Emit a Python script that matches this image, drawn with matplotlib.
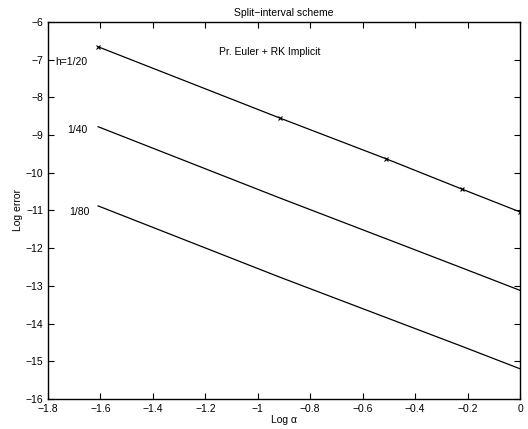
import numpy as np
import matplotlib
matplotlib.use('Agg')
import matplotlib.pyplot as plt

plt.rcParams['font.family'] = ['Liberation Sans', 'DejaVu Sans']

# log(alpha) for alpha = 0.2, 0.4, 0.6, 0.8, 1.0
log_alpha = [-1.609, -0.916, -0.511, -0.223, 0.0]
err_h20 = [-6.66, -8.55, -9.63, -10.43, -11.04]
err_h40 = [-8.78, -10.67, -11.75, -12.52, -13.12]
err_h80 = [-10.88, -12.77, -13.84, -14.60, -15.20]

fig = plt.figure(figsize=(5.28, 4.29), dpi=100)
ax = fig.add_axes([0.0909, 0.070, 0.894, 0.879])

ax.plot(log_alpha, err_h20, color='k', lw=0.9, marker='x', ms=3.5, mew=0.8)
ax.plot(log_alpha, err_h40, color='k', lw=0.9)
ax.plot(log_alpha, err_h80, color='k', lw=0.9)

ax.set_xlim(-1.8, 0)
ax.set_ylim(-16, -6)
ax.set_xticks(np.arange(-1.8, 0.01, 0.2))
ax.set_xticklabels(['\u22121.8', '\u22121.6', '\u22121.4', '\u22121.2', '\u22121',
                    '\u22120.8', '\u22120.6', '\u22120.4', '\u22120.2', '0'])
ax.set_yticks(np.arange(-16, -5.9, 1))
ax.tick_params(direction='in', top=True, right=True, labelsize=7.5, length=4.5, width=0.8)
for s in ax.spines.values():
    s.set_linewidth(1.0)

fs = 7.5
ax.text(-1.773, -7.06, 'h=1/20', fontsize=fs, va='center')
ax.text(-1.69, -8.87, '1/40', fontsize=fs, va='center', ha='center')
ax.text(-1.68, -11.04, '1/80', fontsize=fs, va='center', ha='center')
ax.text(-0.956, -6.8, 'Pr. Euler + RK Implicit', fontsize=fs, va='center', ha='center')

ax.set_title('Split\u2212interval scheme', fontsize=fs, pad=4)
ax.set_xlabel('Log \u03b1', fontsize=fs, labelpad=1)
ax.set_ylabel('Log error', fontsize=fs, labelpad=2)

fig.savefig('out.png', dpi=100)
